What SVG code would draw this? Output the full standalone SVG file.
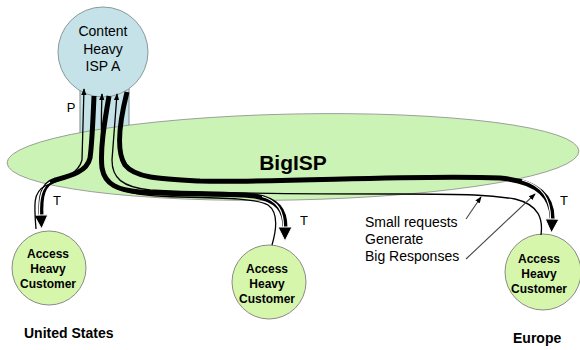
<svg xmlns="http://www.w3.org/2000/svg" width="580" height="350" viewBox="0 0 580 350">
<defs>
<style>
.lbl{font-family:"Liberation Sans",Arial,sans-serif;fill:#000}
.node{font-family:"Liberation Sans",Arial,sans-serif;font-weight:bold;font-size:12px;text-anchor:middle;fill:#000}
.cust{fill:#d6f6ac;stroke:#8a8a8a;stroke-width:1}
.thick{fill:none;stroke:#000;stroke-width:5;stroke-linecap:butt}
.hl{fill:none;stroke:#fff;stroke-width:1.2}
.thin{fill:none;stroke:#000;stroke-width:1.3}
.ptr{fill:none;stroke:#444;stroke-width:1.1}
</style>
<marker id="bigHead" markerUnits="userSpaceOnUse" viewBox="0 0 16 16" markerWidth="16" markerHeight="16" refX="2" refY="8" orient="auto">
<path d="M1,1 L15,8 L1,15 z" fill="#000" stroke="#fff" stroke-width="1"/>
</marker>
<marker id="smallHead" markerUnits="userSpaceOnUse" viewBox="0 0 8 8" markerWidth="7" markerHeight="7" refX="7" refY="4" orient="auto">
<path d="M0,1 L8,4 L0,7 z" fill="#000"/>
</marker>
</defs>

<g id="bigisp">
<rect x="80" y="80" width="49" height="60" fill="#c4e2e7" stroke="#7a8a8c" stroke-width="1"/>
<ellipse cx="293" cy="157" rx="286" ry="43" transform="rotate(-1.2 293 157)" fill="#ccf3b6" stroke="#8a8a8a" stroke-width="0.8"/>
<text class="lbl" x="293" y="170" font-size="21" font-weight="bold" text-anchor="middle">BigISP</text>
</g>

<g id="ispA">
<circle cx="103" cy="52" r="45" fill="#c4e2e7" stroke="#8a9a9c" stroke-width="1"/>
<text class="lbl" font-size="14" text-anchor="middle"><tspan x="103" y="36">Content</tspan><tspan x="103" y="54">Heavy</tspan><tspan x="103" y="71">ISP A</tspan></text>
</g>

<g id="custUS">
<circle class="cust" cx="49" cy="268" r="37"/>
<text class="node"><tspan x="48" y="258">Access</tspan><tspan x="48" y="273">Heavy</tspan><tspan x="48" y="288">Customer</tspan></text>
</g>

<g id="custMid">
<circle class="cust" cx="269" cy="282" r="37"/>
<text class="node"><tspan x="267" y="273">Access</tspan><tspan x="267" y="288">Heavy</tspan><tspan x="267" y="303">Customer</tspan></text>
</g>

<g id="custEU">
<circle class="cust" cx="543" cy="272" r="38"/>
<text class="node"><tspan x="539" y="263">Access</tspan><tspan x="539" y="278">Heavy</tspan><tspan x="539" y="293">Customer</tspan></text>
</g>

<g id="connectors">
<!-- responses (thick) -->
<path class="thick" marker-end="url(#bigHead)" d="M94,96 C93,120 92,145 90,158 C87,172 70,176 55,180 C43,184 40,195 41,216"/>
<path class="thick" marker-end="url(#bigHead)" d="M109,96 C104,125 100,150 102,168 C105,185 118,190 140,192 C180,195 230,193 255,196 C278,200 285,210 285,228"/>
<path class="thick" marker-end="url(#bigHead)" d="M127,92 C120,120 115,150 125,165 C135,178 160,179 200,181 C280,183 420,174 500,178 C535,181 553,195 552,220"/>
<path class="hl" d="M50,182 C42,187 39,196 39.5,215"/>
<path class="hl" d="M262,196.5 C278,201 283.5,211 283.5,227"/>
<path class="hl" d="M522,180 C543,186 550.5,199 550.5,219"/>
<!-- requests (thin) -->
<path class="thin" marker-end="url(#smallHead)" d="M36,229 C34,205 33,192 45,186 C60,180 78,175 82,160 L84,89"/>
<path class="thin" marker-end="url(#smallHead)" d="M272,245 C277,228 278,212 268,205 C258,199 230,198 180,197 C130,196 108,190 104,172 C101,150 101,120 102,94"/>
<path class="thin" stroke-width="1.8" marker-end="url(#smallHead)" d="M541,235 C543,220 540,205 515,199 C490,195 470,194 400,194 C330,194 200,193 150,190 C122,187 112,178 112,160 L117,94"/>
<!-- pointers -->
<path class="ptr" marker-end="url(#smallHead)" d="M466,219 L481,197"/>
<path class="ptr" marker-end="url(#smallHead)" d="M466,259 L535,194"/>
</g>

<g id="labels">
<text class="lbl" x="71" y="112" font-size="13" text-anchor="middle">P</text>
<text class="lbl" x="57" y="205" font-size="13" text-anchor="middle">T</text>
<text class="lbl" x="304" y="225" font-size="13" text-anchor="middle">T</text>
<text class="lbl" x="564" y="205" font-size="13" text-anchor="middle">T</text>
<text class="lbl" font-size="14"><tspan x="365" y="227">Small requests</tspan><tspan x="365" y="244">Generate</tspan><tspan x="365" y="261">Big Responses</tspan></text>
<text class="lbl" x="24" y="338" font-size="14" font-weight="bold">United States</text>
<text class="lbl" x="513" y="343" font-size="14" font-weight="bold">Europe</text>
</g>
</svg>
